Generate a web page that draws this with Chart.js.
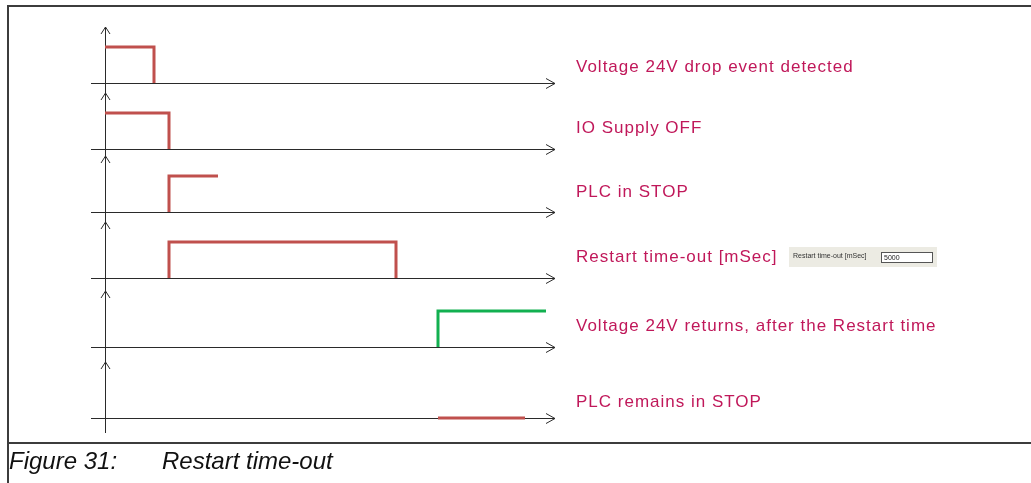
<!DOCTYPE html>
<html>
<head>
<meta charset="utf-8">
<script src="https://cdn.jsdelivr.net/npm/chart.js@4.4.1/dist/chart.umd.min.js"></script>
<style>
  body { margin: 0; background: #fff; }
  #page { position: relative; width: 1031px; height: 483px; overflow: hidden; font-family: "Liberation Sans", Arial, sans-serif; }
  #diagram { position: absolute; left: 0; top: 0; }
  .rule { position: absolute; background: #3c3c3c; }
  #caption { position: absolute; left: 9px; top: 447px; font-size: 24px; font-style: italic; color: #111; white-space: pre; }
</style>
</head>
<body>
<div id="page">
  <canvas id="diagram" width="1031" height="483"></canvas>
  <div class="rule" style="left:7px;top:5px;width:1024px;height:2px"></div>
  <div class="rule" style="left:7px;top:5px;width:2px;height:478px"></div>
  <div class="rule" style="left:7px;top:442px;width:1024px;height:2px"></div>
  <div id="caption"><span>Figure 31:</span><span style="position:absolute;left:153px">Restart time-out</span></div>
</div>
<script>
// lanes, top to bottom
var signalNames = [
  "Voltage 24V drop event detected",
  "IO Supply OFF",
  "PLC in STOP",
  "Restart time-out [mSec]",
  "Voltage 24V returns, after the Restart time",
  "PLC remains in STOP"
];

// edge times (time units after the drop) and logic levels for each lane
var dropTimes = [0, 9.8, 9.8];
var dropLevels = [1, 1, 0];
var ioTimes = [0, 12.8, 12.8];
var ioLevels = [1, 1, 0];
var stopTimes = [12.8, 12.8, 22.6];
var stopLevels = [0, 1, 1];
var restartTimes = [12.8, 12.8, 58.2, 58.2];
var restartLevels = [0, 1, 1, 0];
var returnTimes = [66.6, 66.6, 88.2];
var returnLevels = [0, 1, 1];
var remainTimes = [66.6, 84];
var remainLevels = [0, 0];

var timeStart = -2.8;
var timeEnd = 90;
var restartSetting = "5000";
var restartSettingLabel = "Restart time-out [mSec]";

// layout (pixels)
var laneBase = [83, 149, 212, 278, 347, 418];
var labelY = [67, 128, 192, 257, 326, 402];
var pulseHeight = 36;
var arrowRise = 56;
var laneColors = ["#c0504d", "#c0504d", "#c0504d", "#c0504d", "#12b050", "#c0504d"];

var laneTimes = [dropTimes, ioTimes, stopTimes, restartTimes, returnTimes, remainTimes];
var laneLevels = [dropLevels, ioLevels, stopLevels, restartLevels, returnLevels, remainLevels];

var datasets = laneTimes.map(function (times, k) {
  return {
    label: signalNames[k],
    data: times.map(function (t, i) {
      return { x: t, y: laneBase[k] - laneLevels[k][i] * pulseHeight };
    }),
    borderColor: laneColors[k],
    borderWidth: 3,
    pointRadius: 0,
    tension: 0,
    fill: false,
    borderJoinStyle: "miter",
    borderCapStyle: "butt"
  };
});

var timingAxes = {
  id: "timingAxes",
  beforeDatasetsDraw: function (chart) {
    var ctx = chart.ctx;
    var xs = chart.scales.x, ys = chart.scales.y;
    var x0 = Math.round(xs.getPixelForValue(0)) + 0.5;
    ctx.save();
    ctx.strokeStyle = "#2a2a2a";
    ctx.lineWidth = 1;
    // common vertical axis
    ctx.beginPath();
    ctx.moveTo(x0, ys.getPixelForValue(laneBase[0] - arrowRise));
    ctx.lineTo(x0, ys.getPixelForValue(laneBase[5] + 15));
    ctx.stroke();
    laneBase.forEach(function (b) {
      var y = Math.round(ys.getPixelForValue(b)) + 0.5;
      var xa = xs.getPixelForValue(timeStart);
      var xb = xs.getPixelForValue(timeEnd);
      ctx.beginPath();
      ctx.moveTo(xa, y);
      ctx.lineTo(xb, y);
      ctx.moveTo(xb - 9, y - 5);
      ctx.lineTo(xb, y);
      ctx.lineTo(xb - 9, y + 5);
      ctx.stroke();
      var tip = ys.getPixelForValue(b - arrowRise);
      ctx.beginPath();
      ctx.moveTo(x0 - 4.5, tip + 7);
      ctx.lineTo(x0, tip);
      ctx.lineTo(x0 + 4.5, tip + 7);
      ctx.stroke();
    });
    ctx.restore();
  },
  afterDatasetsDraw: function (chart) {
    var ctx = chart.ctx;
    ctx.save();
    ctx.font = '17px "Liberation Sans", Arial, sans-serif';
    ctx.letterSpacing = "1px";
    ctx.fillStyle = "#c0185a";
    ctx.textBaseline = "middle";
    signalNames.forEach(function (name, k) {
      ctx.fillText(name, 576, labelY[k]);
    });
    // settings field next to the restart lane
    ctx.letterSpacing = "0px";
    ctx.fillStyle = "#ecebe3";
    ctx.fillRect(789, 247, 148, 20);
    ctx.fillStyle = "#333";
    ctx.font = '7px "Liberation Sans", Arial, sans-serif';
    ctx.fillText(restartSettingLabel, 793, 256);
    ctx.fillStyle = "#fff";
    ctx.fillRect(881, 252, 52, 11);
    ctx.strokeStyle = "#555";
    ctx.strokeRect(881.5, 252.5, 51, 10);
    ctx.fillStyle = "#222";
    ctx.fillText(restartSetting, 884, 258);
    ctx.restore();
  }
};

new Chart(document.getElementById("diagram"), {
  type: "line",
  data: { datasets: datasets },
  options: {
    responsive: false,
    animation: false,
    devicePixelRatio: 1,
    events: [],
    layout: { padding: 0 },
    scales: {
      x: { type: "linear", min: -21, max: 185.2, display: false },
      y: { type: "linear", min: 0, max: 483, reverse: true, display: false }
    },
    plugins: {
      legend: { display: false },
      tooltip: { enabled: false }
    }
  },
  plugins: [timingAxes]
});
</script>
</body>
</html>
